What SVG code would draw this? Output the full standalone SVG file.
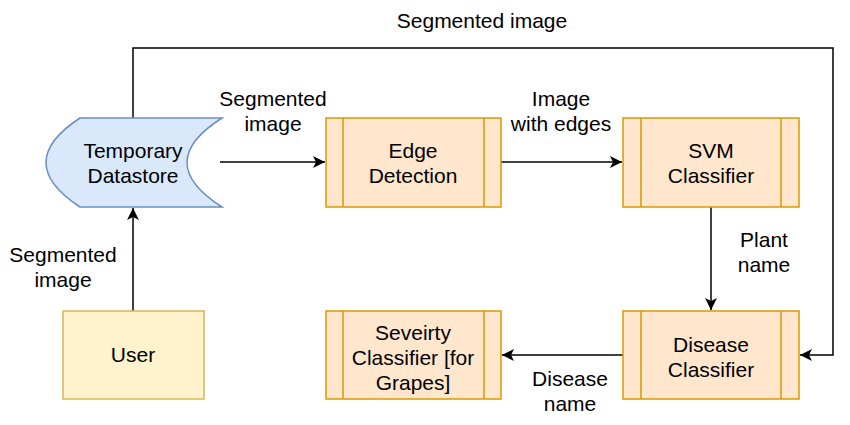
<svg xmlns="http://www.w3.org/2000/svg" width="850" height="425" viewBox="0 0 850 425">
<style>
text{font-family:"Liberation Sans",Arial,sans-serif;font-size:21px;fill:#000;text-anchor:middle}
.proc{fill:#ffe6cc;stroke:#d79b00;stroke-width:1.5}
.conn{fill:none;stroke:#000;stroke-width:1.5;marker-end:url(#arr)}
</style>
<defs>
<marker id="arr" viewBox="0 0 10 10" refX="10" refY="5" markerWidth="13" markerHeight="12" markerUnits="userSpaceOnUse" orient="auto">
<path d="M0,0 L10,5 L0,10 L2.5,5 Z" fill="#000"/>
</marker>
</defs>
<rect width="850" height="425" fill="#fff"/>
<g id="connectors">
<path class="conn" d="M133,118 V48 H833 V355 H800"/>
<path class="conn" d="M220,162 H325"/>
<path class="conn" d="M501,162 H622"/>
<path class="conn" d="M711,207 V310"/>
<path class="conn" d="M623,355 H502"/>
<path class="conn" d="M133,311 V208"/>
<text x="482" y="28">Segmented image</text>
<text x="273" y="106">Segmented</text>
<text x="273" y="131">image</text>
<text x="561" y="106">Image</text>
<text x="561" y="131">with edges</text>
<text x="764" y="247">Plant</text>
<text x="764" y="272">name</text>
<text x="570" y="386">Disease</text>
<text x="570" y="411">name</text>
<text x="63" y="262">Segmented</text>
<text x="63" y="287">image</text>
</g>
<g id="datastore">
<path d="M80,118 H222 Q152,162.5 222,207 H80 Q12,162.5 80,118 Z" fill="#dae8fc" stroke="#6c8ebf" stroke-width="1.5"/>
<text x="133" y="158">Temporary</text>
<text x="133" y="183">Datastore</text>
</g>
<g id="edge">
<rect class="proc" x="326" y="118" width="175" height="89"/>
<path d="M343,118 V207 M484,118 V207" stroke="#d79b00" stroke-width="1.5"/>
<text x="413" y="158">Edge</text>
<text x="413" y="183">Detection</text>
</g>
<g id="svm">
<rect class="proc" x="623" y="118" width="176" height="89"/>
<path d="M641,118 V207 M781,118 V207" stroke="#d79b00" stroke-width="1.5"/>
<text x="711" y="158">SVM</text>
<text x="711" y="183">Classifier</text>
</g>
<g id="disease">
<rect class="proc" x="623" y="311" width="176" height="88"/>
<path d="M641,311 V399 M781,311 V399" stroke="#d79b00" stroke-width="1.5"/>
<text x="711" y="352">Disease</text>
<text x="711" y="377">Classifier</text>
</g>
<g id="severity">
<rect class="proc" x="326" y="311" width="175" height="88"/>
<path d="M343,311 V399 M484,311 V399" stroke="#d79b00" stroke-width="1.5"/>
<text x="413" y="340">Seveirty</text>
<text x="413" y="365">Classifier [for</text>
<text x="413" y="390">Grapes]</text>
</g>
<g id="user">
<rect x="63" y="311" width="141" height="88" fill="#fff2cc" stroke="#d6b656" stroke-width="1.5"/>
<text x="133" y="362">User</text>
</g>
</svg>
